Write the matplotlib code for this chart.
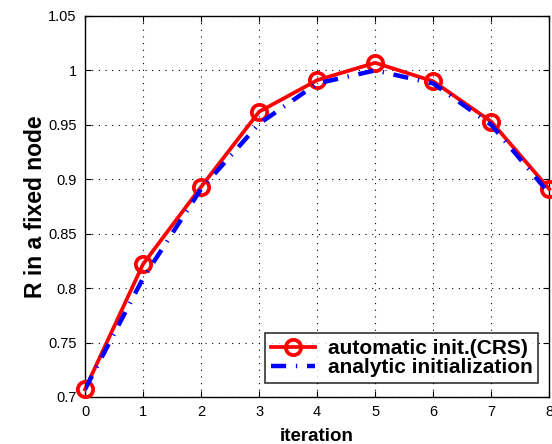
import matplotlib
matplotlib.use("Agg")
import matplotlib.pyplot as plt

# iteration index and R value at the fixed node
iters = [0, 1, 2, 3, 4, 5, 6, 7, 8]
r_auto = [0.707, 0.822, 0.893, 0.962, 0.991, 1.007, 0.990, 0.953, 0.891]
r_analytic = [0.707, 0.809, 0.891, 0.951, 0.988, 1.000, 0.988, 0.950, 0.887]
yticks = [0.7, 0.75, 0.8, 0.85, 0.9, 0.95, 1.0, 1.05]

plt.rcParams["font.family"] = ["Liberation Sans", "DejaVu Sans"]

fig = plt.figure(figsize=(5.52, 4.44), dpi=100)
ax = fig.add_axes([0.154, 0.106, 0.841, 0.858])

ax.plot(iters, r_auto, color="red", lw=2.7, marker="o", ms=11, mfc="none",
        mew=2.7, label="automatic init.(CRS)", clip_on=False, zorder=3)
ax.plot(iters, r_analytic, color="blue", lw=3.2, linestyle=(0, (3.4, 2.2, 0.3, 2.2)),
        label="analytic initialization", zorder=4)

ax.set_xlim(0, 8)
ax.set_ylim(0.7, 1.05)
ax.set_xticks(iters)
ax.set_yticks(yticks)
ax.set_yticklabels(["%g" % v for v in yticks])
ax.tick_params(direction="in", length=4, width=0.8, labelsize=10.5,
               top=True, right=True, pad=6)
ax.grid(True, color="black", linestyle=(0, (1, 5)), linewidth=0.8)
for s in ax.spines.values():
    s.set_linewidth(1.0)

ax.set_xlabel("iteration", fontsize=13.5, fontweight="bold", labelpad=6)
ax.set_ylabel("R in a fixed node", fontsize=16.5, fontweight="bold", labelpad=1)

leg = ax.legend(loc="lower right", prop={"weight": "bold", "size": 15},
                frameon=True, fancybox=False, edgecolor="black", handlelength=2.1,
                borderpad=0.28, labelspacing=0.0, handletextpad=0.6,
                borderaxespad=0, bbox_to_anchor=(0.976, 0.037))
leg.get_frame().set_linewidth(1.2)

fig.savefig("out.png", dpi=100)
